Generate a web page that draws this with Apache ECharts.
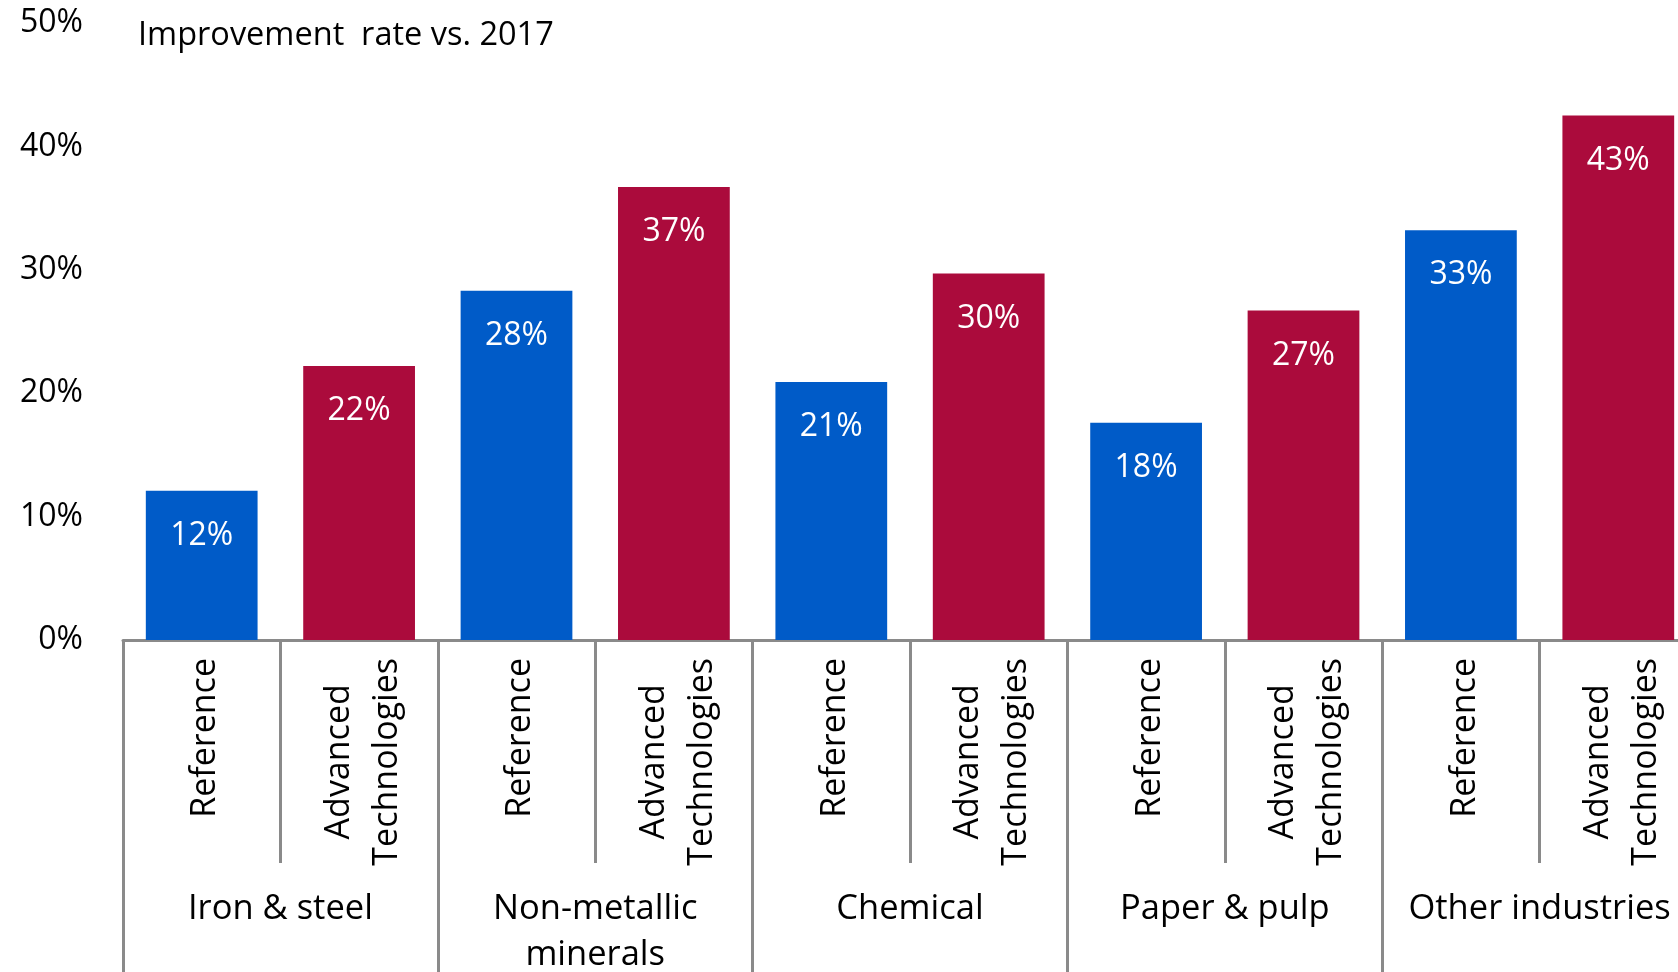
<!DOCTYPE html>
<html>
<head>
<meta charset="utf-8">
<script src="https://cdn.jsdelivr.net/npm/echarts@6/dist/echarts.min.js"></script>
<style>
	html, body { margin: 0; padding: 0; background: #fff; }
	#chart { width: 1678px; height: 972px; }
</style>
</head>
<body>
<div id="chart"></div>
<script>
var groups = ['Iron & steel', 'Non-metallic\nminerals', 'Chemical', 'Paper & pulp', 'Other industries'];
var scenarios = ['Reference', 'Advanced\nTechnologies'];
var referenceValues = [12.1, 28.3, 20.9, 17.6, 33.2];
var advancedValues = [22.2, 36.7, 29.7, 26.7, 42.5];
var yTicks = [0, 10, 20, 30, 40, 50];

var colors = ['#005BC8', '#AB0B3C'];
var font = 'Open Sans';

// one bar per scenario inside each group
var subLabels = [];
var barData = [];
for (var i = 0; i < groups.length; i++) {
	var vals = [referenceValues[i], advancedValues[i]];
	for (var j = 0; j < scenarios.length; j++) {
		subLabels.push(scenarios[j]);
		barData.push({
			value: vals[j],
			itemStyle: { color: colors[j] }
		});
	}
}

var myChart = echarts.init(document.getElementById('chart'));

var option = {
	animation: false,
	title: {
		text: 'Improvement  rate vs. 2017',
		left: 133,
		top: 10,
		textStyle: {
			fontFamily: font,
			fontSize: 32.5,
			fontWeight: 'normal',
			color: '#000',
			lineHeight: 42
		}
	},
	grid: {
		left: 123,
		right: -19,
		top: 23,
		bottom: 332,
		containLabel: false,
		outerBoundsMode: 'none'
	},
	xAxis: [{
		type: 'category',
		data: subLabels,
		position: 'bottom',
		axisLine: { show: true, lineStyle: { color: '#8a8a8a', width: 3 } },
		axisTick: {
			show: true,
			interval: 0,
			length: 223,
			lineStyle: { color: '#8a8a8a', width: 3 }
		},
		axisLabel: {
			interval: 0,
			rotate: 90,
			margin: 18,
			padding: [8, 0, 0, 0],
			color: '#000',
			fontFamily: font,
			fontSize: 34,
			formatter: function (v) {
				return v.split('\n').map(function (s) { return '{c|' + s + '}'; }).join('\n');
			},
			rich: {
				c: { align: 'center', fontFamily: font, fontSize: 34, lineHeight: 48, color: '#000' }
			}
		}
	}, {
		type: 'category',
		data: groups,
		position: 'bottom',
		axisLine: { show: false },
		axisTick: {
			show: true,
			interval: 0,
			length: 340,
			lineStyle: { color: '#8a8a8a', width: 3 }
		},
		axisLabel: {
			interval: 0,
			margin: 246,
			color: '#000',
			fontFamily: font,
			fontSize: 34.5,
			lineHeight: 46
		}
	}],
	yAxis: {
		type: 'value',
		min: yTicks[0],
		max: yTicks[yTicks.length - 1],
		interval: 10,
		axisLine: { show: false },
		axisTick: { show: false },
		splitLine: { show: false },
		axisLabel: {
			margin: 40,
			color: '#000',
			fontFamily: font,
			fontSize: 32,
			formatter: '{value}%'
		}
	},
	series: [{
		type: 'bar',
		xAxisIndex: 0,
		barWidth: '71%',
		data: barData,
		label: {
			show: true,
			position: 'insideTop',
			distance: 29,
			color: '#fff',
			fontFamily: font,
			fontSize: 32,
			lineHeight: 32,
			formatter: function (p) { return Math.round(p.value) + '%'; }
		}
	}]
};

myChart.setOption(option);
</script>
</body>
</html>
